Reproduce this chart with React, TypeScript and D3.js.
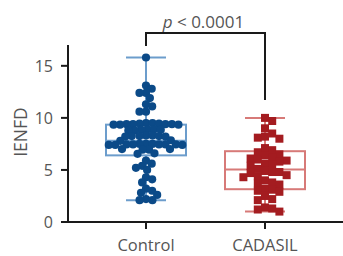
import React from "react";
import * as d3 from "d3";

const categories = ["Control", "CADASIL"];
const controlValues = [
  15.8, 13.1, 12.8, 12.4, 12.4, 11.9, 11.3, 11.1, 10.6, 10.6,
  9.5, 9.45, 9.4, 9.4, 9.35, 9.35, 9.4, 9.45, 9.35, 9.4, 9.5,
  8.9, 8.85, 8.8, 8.85, 8.9, 8.8,
  8.3, 8.25, 8.2, 8.25, 8.3, 8.2, 8.25,
  7.8, 7.85,
  7.5, 7.45, 7.45, 7.4, 7.45, 7.5, 7.4, 7.45, 7.5, 7.4, 7.45,
  7.0, 6.95, 7.0, 6.95,
  6.6, 6.55,
  5.9, 5.6, 5.4, 5.2, 5.0, 4.3, 4.1, 3.8, 3.2, 3.0, 2.8, 2.6, 2.2, 2.1, 2.1,
];
const cadasilValues = [
  10.0, 9.7, 9.0, 8.5, 8.1, 8.0, 8.2, 7.1, 6.9, 6.7, 6.5, 6.4, 6.2, 6.0, 5.9,
  5.8, 6.1, 5.6, 5.5, 5.4, 5.1, 4.9, 4.8, 4.8, 4.7, 4.5, 4.3, 4.4, 4.0, 3.8,
  3.6, 3.7, 3.2, 3.0, 2.9, 3.1, 2.5, 2.2, 2.1, 1.4, 1.3, 1.2, 1.0,
];
// box stats: [min, q1, median, q3, max]
const controlBox = [2.1, 6.4, 7.8, 9.35, 15.8];
const cadasilBox = [1.0, 3.15, 5.05, 6.8, 10.0];
const yTicks = [0, 5, 10, 15];
const pLabel = "< 0.0001";

const W = 343;
const H = 256;
const font = "'Open Sans', 'Noto Sans', sans-serif";
const textColor = "#555";

type P = { v: number; x: number; y: number };

function swarmCircles(vals: number[], y: d3.ScaleLinear<number, number>, d: number): P[] {
  const placed: P[] = [];
  const sorted = [...vals].sort((a, b) => b - a);
  for (const v of sorted) {
    const py = y(v);
    const cands = [0];
    for (const p of placed) {
      const dy = Math.abs(p.y - py);
      if (dy < d) {
        const dx = Math.sqrt(d * d - dy * dy);
        cands.push(p.x + dx, p.x - dx);
      }
    }
    cands.sort((a, b) => Math.abs(a) - Math.abs(b));
    let best = 0;
    for (const c of cands) {
      const ok = placed.every((p) => (p.x - c) ** 2 + (p.y - py) ** 2 >= d * d - 0.01);
      if (ok) { best = c; break; }
    }
    placed.push({ v, x: best, y: py });
  }
  return placed;
}

function swarmSquares(vals: number[], y: d3.ScaleLinear<number, number>, s: number): P[] {
  const placed: P[] = [];
  const sorted = [...vals].sort((a, b) => b - a);
  for (const v of sorted) {
    const py = y(v);
    const cands = [0];
    for (const p of placed) {
      if (Math.abs(p.y - py) < s) cands.push(p.x + s, p.x - s);
    }
    cands.sort((a, b) => Math.abs(a) - Math.abs(b));
    let best = 0;
    for (const c of cands) {
      const ok = placed.every((p) => !(Math.abs(p.x - c) < s - 0.01 && Math.abs(p.y - py) < s - 0.01));
      if (ok) { best = c; break; }
    }
    placed.push({ v, x: best, y: py });
  }
  return placed;
}

export default function App() {
  const y = d3.scaleLinear().domain([0, 17]).range([222, 45]);
  const x = d3.scalePoint<string>().domain(categories).range([146, 265]);
  const cx = x("Control")!;
  const kx = x("CADASIL")!;
  const boxHalf = 40;
  const capHalf = 20;

  const ctrl = swarmCircles(controlValues, y, 6.5);
  const cad = swarmSquares(cadasilValues, y, 7.2);

  const blueDot = "#0b4a88";
  const blueBox = "#6c9dcc";
  const redDot = "#a41c20";
  const redBox = "#d77a78";

  const renderBox = (cxp: number, b: number[], color: string) => (
    <g stroke={color} strokeWidth={2} fill="none">
      <line x1={cxp} x2={cxp} y1={y(b[4])} y2={y(b[0])} />
      <line x1={cxp - capHalf} x2={cxp + capHalf} y1={y(b[4])} y2={y(b[4])} />
      <line x1={cxp - capHalf} x2={cxp + capHalf} y1={y(b[0])} y2={y(b[0])} />
      <rect x={cxp - boxHalf} y={y(b[3])} width={boxHalf * 2} height={y(b[1]) - y(b[3])} fill="white" />
      <line x1={cxp - boxHalf} x2={cxp + boxHalf} y1={y(b[2])} y2={y(b[2])} />
    </g>
  );

  return (
    <svg width={W} height={H} style={{ position: "absolute", left: 0, top: 0, background: "white" }} fontFamily={font}>
      {renderBox(cx, controlBox, blueBox)}
      {renderBox(kx, cadasilBox, redBox)}
      <g fill={blueDot}>
        {ctrl.map((p, i) => (
          <circle key={i} cx={cx + p.x} cy={p.y} r={4.1} />
        ))}
      </g>
      <g fill={redDot}>
        {cad.map((p, i) => (
          <rect key={i} x={kx + p.x - 4} y={p.y - 4} width={8} height={8} />
        ))}
      </g>
      <g stroke="#1a1a1a" strokeWidth={2}>
        <line x1={68} x2={68} y1={45} y2={222} />
        <line x1={61} x2={343} y1={222} y2={222} />
        {yTicks.map((t) => (
          <line key={t} x1={61} x2={68} y1={y(t)} y2={y(t)} />
        ))}
        {categories.map((c) => (
          <line key={c} x1={x(c)!} x2={x(c)!} y1={222} y2={229} />
        ))}
      </g>
      {yTicks.map((t) => (
        <text key={t} x={53} y={y(t)} dy="0.36em" textAnchor="end" fontSize={16} fill={textColor}>
          {t}
        </text>
      ))}
      {categories.map((c) => (
        <text key={c} x={x(c)!} y={251} textAnchor="middle" fontSize={16.5} fill={textColor}>
          {c}
        </text>
      ))}
      <text transform={`translate(27,132) rotate(-90)`} textAnchor="middle" fontSize={17.5} fill={textColor}>
        IENFD
      </text>
      <path d={`M${cx},46 V33 H${kx} V100`} fill="none" stroke="#1a1a1a" strokeWidth={2} />
      <text x={(cx + kx) / 2 - 2} y={28} textAnchor="middle" fontSize={17} fill={textColor}>
        <tspan fontStyle="italic">p</tspan> {pLabel}
      </text>
    </svg>
  );
}
